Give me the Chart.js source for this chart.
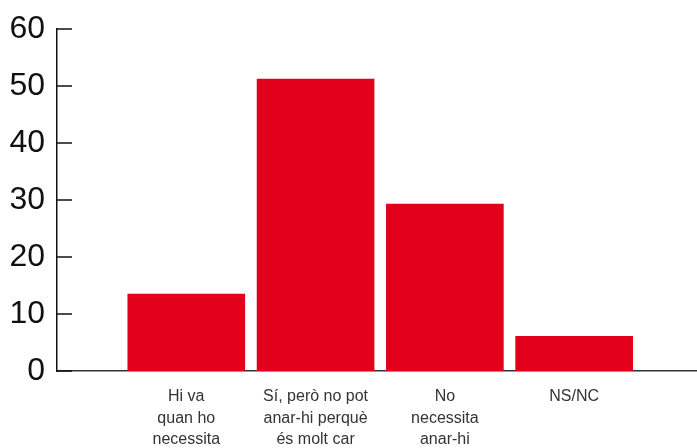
<!DOCTYPE html>
<html>
<head>
<meta charset="utf-8">
<script src="https://cdn.jsdelivr.net/npm/chart.js@4/dist/chart.umd.min.js"></script>
<style>
  html, body { margin: 0; padding: 0; background: #fff; }
  #wrap { width: 697px; height: 448px; }
</style>
</head>
<body>
<div id="wrap"><canvas id="barChart" width="697" height="448"></canvas></div>
<script>
// categories (one array per line of the label)
var categories = [
  ["Hi va", "quan ho", "necessita"],
  ["Sí, però no pot", "anar-hi perquè", "és molt car"],
  ["No", "necessita", "anar-hi"],
  ["NS/NC"]
];
var values = [13.5, 51.2, 29.3, 6.1];
var yTicks = [0, 10, 20, 30, 40, 50, 60];

var points = values.map(function (v, i) { return { x: i + 1, y: v }; });

// short tick marks pointing into the plot
var innerTicks = {
  id: 'innerTicks',
  afterDraw: function (chart) {
    var ctx = chart.ctx, y = chart.scales.y, area = chart.chartArea;
    ctx.save();
    ctx.strokeStyle = '#111';
    ctx.lineWidth = 1.5;
    yTicks.forEach(function (t) {
      var py = Math.round(y.getPixelForValue(t));
      ctx.beginPath();
      ctx.moveTo(area.left, py);
      ctx.lineTo(area.left + 15, py);
      ctx.stroke();
    });
    ctx.restore();
  }
};

var ctx = document.getElementById('barChart').getContext('2d');
var chart = new Chart(ctx, {
  type: 'bar',
  data: {
    datasets: [{
      data: points,
      backgroundColor: '#e2001a',
      borderWidth: 0,
      barThickness: 117
    }]
  },
  options: {
    responsive: false,
    animation: false,
    layout: { padding: { top: 29, right: 0, left: 0, bottom: 0 } },
    plugins: { legend: { display: false }, tooltip: { enabled: false } },
    scales: {
      x: {
        type: 'linear',
        min: 0,
        max: 4.95,
        bounds: 'data',
        offset: false,
        grid: { display: false, drawTicks: false, offset: false },
        border: { display: true, color: '#333', width: 1.5 },
        afterBuildTicks: function (scale) {
          scale.ticks = categories.map(function (c, i) { return { value: i + 1 }; });
        },
        afterFit: function (scale) {
          scale.height = 77;
          scale.paddingLeft = 0;
          scale.paddingRight = 0;
        },
        ticks: {
          autoSkip: false,
          maxRotation: 0,
          padding: 15,
          color: '#333',
          font: { family: '"Liberation Sans", Arial, sans-serif', size: 16, lineHeight: 1.35 },
          callback: function (v) { return categories[v - 1] || ''; }
        }
      },
      y: {
        min: 0,
        max: 60,
        afterBuildTicks: function (scale) {
          scale.ticks = yTicks.map(function (t) { return { value: t }; });
        },
        afterFit: function (scale) {
          scale.width = 57;
          scale.paddingTop = 0;
          scale.paddingBottom = 0;
        },
        grid: { display: false, drawTicks: false },
        border: { display: true, color: '#111', width: 1.5 },
        ticks: {
          padding: 12,
          color: '#111',
          font: { family: '"Liberation Sans", Arial, sans-serif', size: 32 }
        }
      }
    }
  },
  plugins: [innerTicks]
});
</script>
</body>
</html>
